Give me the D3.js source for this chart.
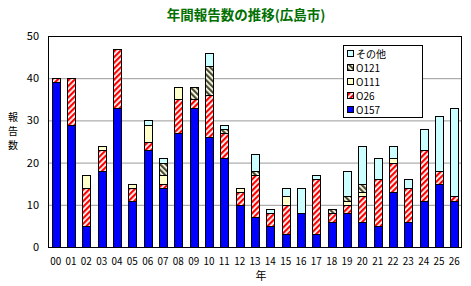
<!DOCTYPE html>
<html><head><meta charset="utf-8">
<script src="https://cdn.jsdelivr.net/npm/d3@7/dist/d3.min.js"></script>
<style>body{margin:0;background:#fff}svg{display:block}text{font-family:"Noto Sans CJK JP","DejaVu Sans",sans-serif}</style>
</head><body>
<script>
const years = ["00","01","02","03","04","05","06","07","08","09","10","11","12","13","14","15","16","17","18","19","20","21","22","23","24","25","26"];
const o157  = [39,29,5,18,33,11,23,14,27,33,26,21,10,7,5,3,8,3,6,8,6,5,13,6,11,15,11];
const o26   = [1,11,9,5,14,3,2,1,8,2,10,6,3,10,3,7,0,13,2,2,6,11,7,8,12,3,1];
const o111  = [0,0,3,1,0,1,4,2,3,0,0,0,1,0,0,2,0,0,0,1,1,0,1,0,0,0,0];
const o121  = [0,0,0,0,0,0,0,3,0,3,7,1,0,1,0,0,0,0,1,1,2,0,0,0,0,0,0];
const other = [0,0,0,0,0,0,1,1,0,0,3,1,0,4,1,2,6,1,0,6,9,5,3,2,5,13,21];
const seriesNames = ["O157","O26","O111","O121","その他"];
const yTicks = [0,10,20,30,40,50];
const title = "年間報告数の推移(広島市)";
const yTitle = ["報","告","数"];
const xTitle = "年";

const W=471,H=286, L=48,R=462,T=36,B=247;
const svg=d3.select("body").append("svg").attr("width",W).attr("height",H);
const defs=svg.append("defs");
const pr=defs.append("pattern").attr("id","pRed").attr("patternUnits","userSpaceOnUse").attr("width",4).attr("height",4).attr("patternTransform","rotate(45)");
pr.append("rect").attr("width",4).attr("height",4).attr("fill","#fff");
pr.append("rect").attr("width",2.2).attr("height",4).attr("fill","#ff0000");
const pg=defs.append("pattern").attr("id","pDark").attr("patternUnits","userSpaceOnUse").attr("width",4).attr("height",4).attr("patternTransform","rotate(-45)");
pg.append("rect").attr("width",4).attr("height",4).attr("fill","#ffffee");
pg.append("rect").attr("width",2.2).attr("height",4).attr("fill","#4a4a30");
const fills=["#0000ff","url(#pRed)","#ffffcc","url(#pDark)","#ccffff"];

const x=d3.scaleBand().domain(years).range([L,R]).paddingInner(0.48).paddingOuter(0.24);
const y=d3.scaleLinear().domain([0,50]).range([B,T]);

svg.append("g").selectAll("line").data(yTicks.filter(v=>v>0&&v<50)).join("line")
  .attr("x1",L).attr("x2",R).attr("y1",d=>y(d)+0.5).attr("y2",d=>y(d)+0.5).attr("stroke","#999").attr("stroke-width",1);

const data=years.map((yr,i)=>({yr,O157:o157[i],O26:o26[i],O111:o111[i],O121:o121[i],"その他":other[i]}));
const stack=d3.stack().keys(seriesNames)(data);
stack.forEach((s,si)=>{
  svg.append("g").selectAll("rect").data(s.filter(d=>d[1]-d[0]>0)).join("rect")
    .attr("x",d=>Math.round(x(d.data.yr))+0.5).attr("width",Math.round(x.bandwidth()))
    .attr("y",d=>Math.round(y(d[1]))+0.5).attr("height",d=>Math.round(y(d[0]))-Math.round(y(d[1])))
    .attr("fill",fills[si]).attr("stroke","#000").attr("stroke-width",1);
});

svg.append("rect").attr("x",L+0.5).attr("y",T+0.5).attr("width",R-L-1).attr("height",B-T).attr("fill","none").attr("stroke","#000");

svg.append("g").selectAll("text").data(yTicks).join("text")
  .attr("x",39).attr("y",d=>y(d)+4).attr("text-anchor","end").attr("font-size",11).text(d=>d);
svg.append("g").selectAll("text").data(years).join("text")
  .attr("x",d=>x(d)+x.bandwidth()/2).attr("y",265).attr("text-anchor","middle").attr("font-size",10)
  .attr("textLength",11).attr("lengthAdjust","spacingAndGlyphs").text(d=>d);
svg.append("text").attr("x",261).attr("y",280).attr("text-anchor","middle").attr("font-size",11).text(xTitle);
svg.append("g").selectAll("text").data(yTitle).join("text")
  .attr("x",13).attr("y",(d,i)=>121+i*14).attr("text-anchor","middle").attr("font-size",10).text(d=>d);

svg.append("text").attr("x",246).attr("y",20).attr("text-anchor","middle").attr("font-size",13.5).attr("font-weight","bold").attr("fill","#007000").text(title);

const lg=svg.append("g");
lg.append("rect").attr("x",343.5).attr("y",45.5).attr("width",79).attr("height",72).attr("fill","#fff").attr("stroke","#000");
const legOrder=[4,3,2,1,0];
legOrder.forEach((si,k)=>{
  const cy=54+k*14;
  lg.append("rect").attr("x",347.5).attr("y",cy-3.5).attr("width",6).attr("height",6).attr("fill",fills[si]).attr("stroke","#000");
  lg.append("text").attr("x",356).attr("y",cy+3.5).attr("font-size",10).text(seriesNames[si]);
});
</script>
</body></html>
